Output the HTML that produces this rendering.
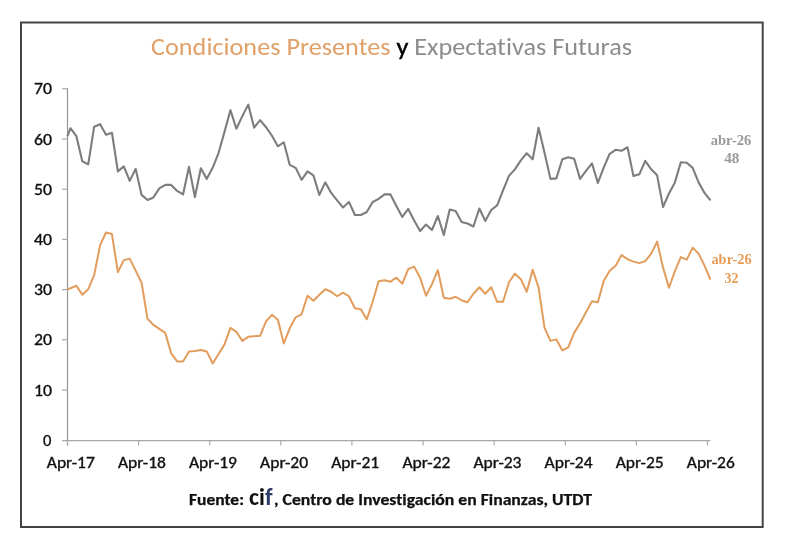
<!DOCTYPE html>
<html><head><meta charset="utf-8"><title>Condiciones Presentes y Expectativas Futuras</title>
<style>
html,body{margin:0;padding:0;background:#fff;width:790px;height:551px;overflow:hidden}
svg{display:block;filter:blur(0.4px)}
text{font-family:"Carlito", "Liberation Sans", sans-serif;font-variant-ligatures:none}
</style></head><body>
<svg width="790" height="551" viewBox="0 0 790 551">
<rect x="0" y="0" width="790" height="551" fill="#fff"/>
<rect x="21" y="22.5" width="741.7" height="504.5" fill="none" stroke="#444" stroke-width="2"/>

<text x="151" y="55" font-size="23.5" textLength="481" lengthAdjust="spacingAndGlyphs"><tspan fill="#E0A068">Condiciones Presentes</tspan><tspan fill="#000" stroke="#000" stroke-width="0.4"> y </tspan><tspan fill="#8C8C8C">Expectativas Futuras</tspan></text>
<line x1="67.5" y1="88.3" x2="67.5" y2="445.5" stroke="#959595" stroke-width="1.2"/>
<line x1="62" y1="440.6" x2="710.5" y2="440.6" stroke="#a8a8a8" stroke-width="1.3"/>
<text x="51.3" y="445.8" font-size="16.5" text-anchor="end" fill="#111" stroke="#111" stroke-width="0.35">0</text>
<line x1="62" y1="390.0" x2="67.5" y2="390.0" stroke="#ababab" stroke-width="1.2"/>
<text x="52" y="395.6" font-size="16.5" text-anchor="end" fill="#111" stroke="#111" stroke-width="0.35" textLength="18" lengthAdjust="spacingAndGlyphs">10</text>
<line x1="62" y1="339.8" x2="67.5" y2="339.8" stroke="#ababab" stroke-width="1.2"/>
<text x="52" y="345.4" font-size="16.5" text-anchor="end" fill="#111" stroke="#111" stroke-width="0.35" textLength="18" lengthAdjust="spacingAndGlyphs">20</text>
<line x1="62" y1="289.6" x2="67.5" y2="289.6" stroke="#ababab" stroke-width="1.2"/>
<text x="52" y="295.2" font-size="16.5" text-anchor="end" fill="#111" stroke="#111" stroke-width="0.35" textLength="18" lengthAdjust="spacingAndGlyphs">30</text>
<line x1="62" y1="239.4" x2="67.5" y2="239.4" stroke="#ababab" stroke-width="1.2"/>
<text x="52" y="245.0" font-size="16.5" text-anchor="end" fill="#111" stroke="#111" stroke-width="0.35" textLength="18" lengthAdjust="spacingAndGlyphs">40</text>
<line x1="62" y1="189.2" x2="67.5" y2="189.2" stroke="#ababab" stroke-width="1.2"/>
<text x="52" y="194.8" font-size="16.5" text-anchor="end" fill="#111" stroke="#111" stroke-width="0.35" textLength="18" lengthAdjust="spacingAndGlyphs">50</text>
<line x1="62" y1="139.0" x2="67.5" y2="139.0" stroke="#ababab" stroke-width="1.2"/>
<text x="52" y="144.6" font-size="16.5" text-anchor="end" fill="#111" stroke="#111" stroke-width="0.35" textLength="18" lengthAdjust="spacingAndGlyphs">60</text>
<line x1="62" y1="88.8" x2="67.5" y2="88.8" stroke="#ababab" stroke-width="1.2"/>
<text x="52" y="94.4" font-size="16.5" text-anchor="end" fill="#111" stroke="#111" stroke-width="0.35" textLength="18" lengthAdjust="spacingAndGlyphs">70</text>
<line x1="67.5" y1="440.6" x2="67.5" y2="445.5" stroke="#ababab" stroke-width="1.2"/>
<text x="70.8" y="468.0" font-size="15.5" text-anchor="middle" fill="#111" stroke="#111" stroke-width="0.35" textLength="48" lengthAdjust="spacingAndGlyphs">Apr-17</text>
<line x1="138.6" y1="440.6" x2="138.6" y2="445.5" stroke="#ababab" stroke-width="1.2"/>
<text x="141.9" y="468.0" font-size="15.5" text-anchor="middle" fill="#111" stroke="#111" stroke-width="0.35" textLength="48" lengthAdjust="spacingAndGlyphs">Apr-18</text>
<line x1="209.7" y1="440.6" x2="209.7" y2="445.5" stroke="#ababab" stroke-width="1.2"/>
<text x="213.0" y="468.0" font-size="15.5" text-anchor="middle" fill="#111" stroke="#111" stroke-width="0.35" textLength="48" lengthAdjust="spacingAndGlyphs">Apr-19</text>
<line x1="280.8" y1="440.6" x2="280.8" y2="445.5" stroke="#ababab" stroke-width="1.2"/>
<text x="284.1" y="468.0" font-size="15.5" text-anchor="middle" fill="#111" stroke="#111" stroke-width="0.35" textLength="48" lengthAdjust="spacingAndGlyphs">Apr-20</text>
<line x1="351.9" y1="440.6" x2="351.9" y2="445.5" stroke="#ababab" stroke-width="1.2"/>
<text x="355.2" y="468.0" font-size="15.5" text-anchor="middle" fill="#111" stroke="#111" stroke-width="0.35" textLength="48" lengthAdjust="spacingAndGlyphs">Apr-21</text>
<line x1="423.1" y1="440.6" x2="423.1" y2="445.5" stroke="#ababab" stroke-width="1.2"/>
<text x="426.4" y="468.0" font-size="15.5" text-anchor="middle" fill="#111" stroke="#111" stroke-width="0.35" textLength="48" lengthAdjust="spacingAndGlyphs">Apr-22</text>
<line x1="494.2" y1="440.6" x2="494.2" y2="445.5" stroke="#ababab" stroke-width="1.2"/>
<text x="497.5" y="468.0" font-size="15.5" text-anchor="middle" fill="#111" stroke="#111" stroke-width="0.35" textLength="48" lengthAdjust="spacingAndGlyphs">Apr-23</text>
<line x1="565.3" y1="440.6" x2="565.3" y2="445.5" stroke="#ababab" stroke-width="1.2"/>
<text x="568.6" y="468.0" font-size="15.5" text-anchor="middle" fill="#111" stroke="#111" stroke-width="0.35" textLength="48" lengthAdjust="spacingAndGlyphs">Apr-24</text>
<line x1="636.4" y1="440.6" x2="636.4" y2="445.5" stroke="#ababab" stroke-width="1.2"/>
<text x="639.7" y="468.0" font-size="15.5" text-anchor="middle" fill="#111" stroke="#111" stroke-width="0.35" textLength="48" lengthAdjust="spacingAndGlyphs">Apr-25</text>
<line x1="707.5" y1="440.6" x2="707.5" y2="445.5" stroke="#ababab" stroke-width="1.2"/>
<text x="710.8" y="468.0" font-size="15.5" text-anchor="middle" fill="#111" stroke="#111" stroke-width="0.35" textLength="48" lengthAdjust="spacingAndGlyphs">Apr-26</text>
<polyline points="67.50,136.23 70.46,128.21 76.39,136.23 82.31,161.31 88.24,164.32 94.17,126.70 100.09,124.19 106.02,134.73 111.94,132.72 117.87,171.34 123.80,166.33 129.72,180.87 135.65,168.84 141.57,194.92 147.50,199.94 153.42,197.43 159.35,188.40 165.28,184.89 171.20,184.89 177.13,190.91 183.05,194.42 188.98,166.83 194.91,196.93 200.83,168.33 206.76,178.87 212.68,167.83 218.61,152.78 224.53,131.72 230.46,110.15 236.39,128.71 242.31,116.17 248.24,104.63 254.16,127.70 260.09,120.18 266.02,127.20 271.94,135.73 277.87,146.26 283.79,142.25 289.72,164.82 295.64,167.83 301.57,179.87 307.50,171.34 313.42,175.36 319.35,194.92 325.27,182.38 331.20,192.91 337.13,200.44 343.05,207.46 348.98,201.94 354.90,214.98 360.83,214.98 366.75,211.97 372.68,201.94 378.61,198.93 384.53,194.42 390.46,194.42 396.38,205.95 402.31,216.99 408.24,208.96 414.16,220.50 420.09,231.03 426.01,224.51 431.94,230.03 437.86,215.99 443.79,235.05 449.72,209.47 455.64,210.97 461.57,222.01 467.49,223.51 473.42,226.52 479.35,208.46 485.27,221.00 491.20,209.97 497.12,205.45 503.05,190.40 508.97,175.86 514.90,169.34 520.83,160.31 526.75,153.29 532.68,159.31 538.60,127.70 544.53,152.78 550.46,178.87 556.38,178.37 562.31,159.31 568.23,157.30 574.16,158.80 580.08,178.87 586.01,170.84 591.94,163.32 597.86,182.88 603.79,167.33 609.71,153.79 615.64,149.78 621.57,150.78 627.49,147.27 633.42,175.86 639.34,174.35 645.27,160.81 651.19,169.34 657.12,175.36 663.05,206.96 668.97,193.41 674.90,182.38 680.82,162.32 686.75,162.82 692.68,167.83 698.60,182.38 704.53,192.91 710.45,200.44" fill="none" stroke="#7d7d7d" stroke-width="2.1" stroke-linejoin="round"/>
<polyline points="67.50,289.72 70.46,288.22 76.39,285.71 82.31,294.74 88.24,289.22 94.17,275.18 100.09,245.08 106.02,232.54 111.94,234.04 117.87,272.17 123.80,260.13 129.72,258.62 135.65,270.66 141.57,282.70 147.50,318.81 153.42,324.83 159.35,328.85 165.28,332.86 171.20,353.42 177.13,361.45 183.05,361.45 188.98,351.42 194.91,350.92 200.83,349.91 206.76,351.42 212.68,363.46 218.61,353.93 224.53,344.40 230.46,327.84 236.39,331.86 242.31,340.88 248.24,336.87 254.16,336.37 260.09,335.87 266.02,321.32 271.94,314.80 277.87,319.82 283.79,343.39 289.72,328.34 295.64,317.31 301.57,314.30 307.50,295.74 313.42,300.76 319.35,294.74 325.27,289.22 331.20,291.73 337.13,296.24 343.05,292.73 348.98,296.24 354.90,308.28 360.83,309.28 366.75,319.32 372.68,301.76 378.61,281.19 384.53,280.19 390.46,281.70 396.38,277.68 402.31,283.70 408.24,269.16 414.16,266.65 420.09,277.68 426.01,295.74 431.94,284.20 437.86,270.16 443.79,297.75 449.72,298.75 455.64,296.74 461.57,300.26 467.49,302.26 473.42,293.73 479.35,287.21 485.27,293.73 491.20,287.21 497.12,301.76 503.05,301.76 508.97,282.20 514.90,273.67 520.83,279.19 526.75,291.73 532.68,269.66 538.60,287.72 544.53,327.84 550.46,340.88 556.38,339.38 562.31,350.42 568.23,347.41 574.16,332.86 580.08,323.33 586.01,312.29 591.94,301.26 597.86,302.26 603.79,280.69 609.71,270.66 615.64,265.64 621.57,255.11 627.49,259.12 633.42,261.63 639.34,263.14 645.27,261.13 651.19,253.61 657.12,241.57 663.05,267.65 668.97,287.72 674.90,271.16 680.82,257.12 686.75,259.63 692.68,247.59 698.60,253.61 704.53,265.64 710.45,279.69" fill="none" stroke="#E29C5C" stroke-width="2" stroke-linejoin="round"/>
<text x="731" y="144.8" font-size="15" font-weight="bold" text-anchor="middle" fill="#999" textLength="40.7" lengthAdjust="spacingAndGlyphs" style="font-family:'Liberation Serif',serif">abr-26</text>
<text x="731.8" y="162.6" font-size="15" font-weight="bold" text-anchor="middle" fill="#999" textLength="15.3" lengthAdjust="spacingAndGlyphs" style="font-family:'Liberation Serif',serif">48</text>
<text x="731.6" y="264.3" font-size="15" font-weight="bold" text-anchor="middle" fill="#E99C55" textLength="40.4" lengthAdjust="spacingAndGlyphs" style="font-family:'Liberation Serif',serif">abr-26</text>
<text x="731.5" y="282.7" font-size="15" font-weight="bold" text-anchor="middle" fill="#E99C55" textLength="14" lengthAdjust="spacingAndGlyphs" style="font-family:'Liberation Serif',serif">32</text>
<text x="189" y="505" font-size="15" font-weight="bold" fill="#111" stroke="#111" stroke-width="0.25"><tspan textLength="55" lengthAdjust="spacingAndGlyphs">Fuente:</tspan></text>
<text x="249" y="505" font-size="24" font-weight="bold" fill="#111">c<tspan>i</tspan><tspan fill="#2E3D6B">f</tspan></text>
<text x="274" y="505" font-size="15" font-weight="bold" fill="#111" stroke="#111" stroke-width="0.25" textLength="318" lengthAdjust="spacingAndGlyphs">, Centro de Investigación en Finanzas, UTDT</text>
</svg>
</body></html>
